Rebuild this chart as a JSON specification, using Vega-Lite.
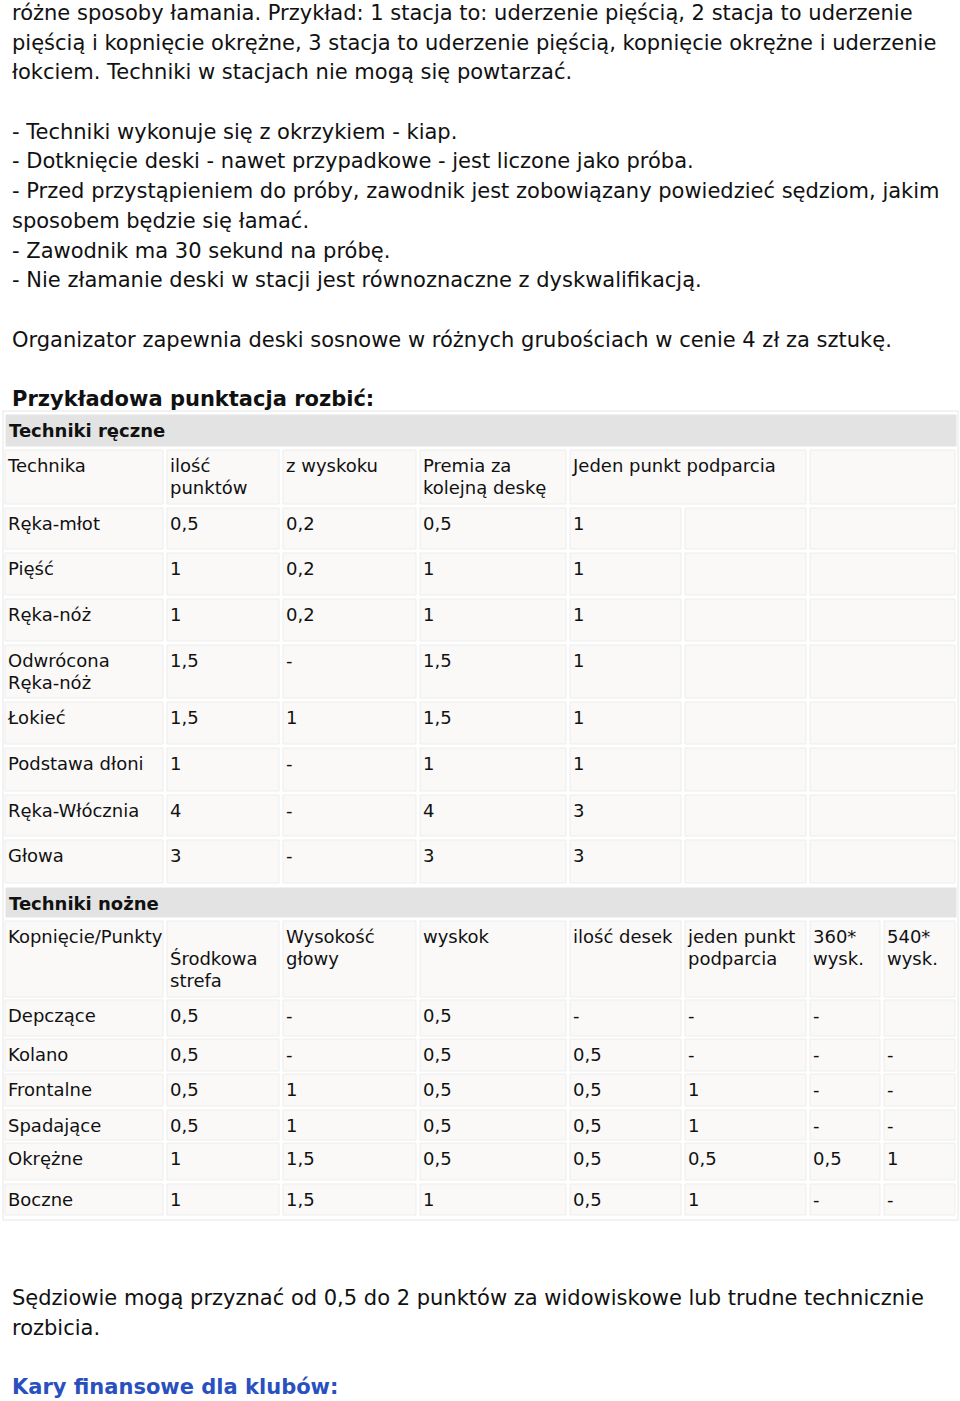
{
  "$schema": "https://vega.github.io/schema/vega-lite/v6.json",
  "width": 960,
  "height": 1401,
  "autosize": {"type": "fit", "contains": "padding"},
  "padding": 0,
  "background": "#ffffff",
  "config": {"view": {"stroke": null}},
  "datasets": {
    "intro": [
      {"line": 0, "kind": "body", "text": "różne sposoby łamania. Przykład: 1 stacja to: uderzenie pięścią, 2 stacja to uderzenie"},
      {"line": 1, "kind": "body", "text": "pięścią i kopnięcie okrężne, 3 stacja to uderzenie pięścią, kopnięcie okrężne i uderzenie"},
      {"line": 2, "kind": "body", "text": "łokciem. Techniki w stacjach nie mogą się powtarzać."},
      {"line": 4, "kind": "body", "text": "- Techniki wykonuje się z okrzykiem - kiap."},
      {"line": 5, "kind": "body", "text": "- Dotknięcie deski - nawet przypadkowe - jest liczone jako próba."},
      {"line": 6, "kind": "body", "text": "- Przed przystąpieniem do próby, zawodnik jest zobowiązany powiedzieć sędziom, jakim"},
      {"line": 7, "kind": "body", "text": "sposobem będzie się łamać."},
      {"line": 8, "kind": "body", "text": "- Zawodnik ma 30 sekund na próbę."},
      {"line": 9, "kind": "body", "text": "- Nie złamanie deski w stacji jest równoznaczne z dyskwalifikacją."},
      {"line": 11, "kind": "body", "text": "Organizator zapewnia deski sosnowe w różnych grubościach w cenie 4 zł za sztukę."},
      {"line": 13, "kind": "heading", "text": "Przykładowa punktacja rozbić:"}
    ],
    "footer": [
      {"line": 0, "kind": "body", "text": "Sędziowie mogą przyznać od 0,5 do 2 punktów za widowiskowe lub trudne technicznie"},
      {"line": 1, "kind": "body", "text": "rozbicia."},
      {"line": 3, "kind": "link", "text": "Kary finansowe dla klubów:"}
    ],
    "rows": [
      {"row": "frame", "top": 411, "bottom": 1220},
      {"row": "s1", "top": 415, "bottom": 446},
      {"row": "h1", "top": 450, "bottom": 504},
      {"row": "a1", "top": 508, "bottom": 549},
      {"row": "a2", "top": 553, "bottom": 595},
      {"row": "a3", "top": 599, "bottom": 641},
      {"row": "a4", "top": 645, "bottom": 698},
      {"row": "a5", "top": 702, "bottom": 744},
      {"row": "a6", "top": 748, "bottom": 791},
      {"row": "a7", "top": 795, "bottom": 836},
      {"row": "a8", "top": 840, "bottom": 883},
      {"row": "s2", "top": 888, "bottom": 917},
      {"row": "h2", "top": 921, "bottom": 997},
      {"row": "b1", "top": 1000, "bottom": 1036},
      {"row": "b2", "top": 1039, "bottom": 1071},
      {"row": "b3", "top": 1074, "bottom": 1106},
      {"row": "b4", "top": 1110, "bottom": 1140},
      {"row": "b5", "top": 1143, "bottom": 1180},
      {"row": "b6", "top": 1184, "bottom": 1215}
    ],
    "cols": [
      {"col": "frame", "left": 3, "right": 958},
      {"col": "all", "left": 6, "right": 956},
      {"col": "c0", "left": 5, "right": 163},
      {"col": "c1", "left": 167, "right": 279},
      {"col": "c2", "left": 283, "right": 416},
      {"col": "c3", "left": 420, "right": 566},
      {"col": "c4", "left": 570, "right": 681},
      {"col": "c5", "left": 685, "right": 806},
      {"col": "c45", "left": 570, "right": 806},
      {"col": "c6w", "left": 810, "right": 955},
      {"col": "c6", "left": 810, "right": 880},
      {"col": "c7", "left": 884, "right": 955}
    ],
    "cells": [
      {"row": "frame", "col": "frame", "kind": "frame", "text": ""},
      {"row": "s1", "col": "all", "kind": "section", "text": "Techniki ręczne"},
      {"row": "h1", "col": "c0", "kind": "cell", "text": "Technika"},
      {"row": "h1", "col": "c1", "kind": "cell", "text": "ilość\npunktów"},
      {"row": "h1", "col": "c2", "kind": "cell", "text": "z wyskoku"},
      {"row": "h1", "col": "c3", "kind": "cell", "text": "Premia za\nkolejną deskę"},
      {"row": "h1", "col": "c45", "kind": "cell", "text": "Jeden punkt podparcia"},
      {"row": "h1", "col": "c6w", "kind": "cell", "text": ""},

      {"row": "a1", "col": "c0", "kind": "cell", "text": "Ręka-młot"},
      {"row": "a1", "col": "c1", "kind": "cell", "text": "0,5"},
      {"row": "a1", "col": "c2", "kind": "cell", "text": "0,2"},
      {"row": "a1", "col": "c3", "kind": "cell", "text": "0,5"},
      {"row": "a1", "col": "c4", "kind": "cell", "text": "1"},
      {"row": "a1", "col": "c5", "kind": "cell", "text": ""},
      {"row": "a1", "col": "c6w", "kind": "cell", "text": ""},

      {"row": "a2", "col": "c0", "kind": "cell", "text": "Pięść"},
      {"row": "a2", "col": "c1", "kind": "cell", "text": "1"},
      {"row": "a2", "col": "c2", "kind": "cell", "text": "0,2"},
      {"row": "a2", "col": "c3", "kind": "cell", "text": "1"},
      {"row": "a2", "col": "c4", "kind": "cell", "text": "1"},
      {"row": "a2", "col": "c5", "kind": "cell", "text": ""},
      {"row": "a2", "col": "c6w", "kind": "cell", "text": ""},

      {"row": "a3", "col": "c0", "kind": "cell", "text": "Ręka-nóż"},
      {"row": "a3", "col": "c1", "kind": "cell", "text": "1"},
      {"row": "a3", "col": "c2", "kind": "cell", "text": "0,2"},
      {"row": "a3", "col": "c3", "kind": "cell", "text": "1"},
      {"row": "a3", "col": "c4", "kind": "cell", "text": "1"},
      {"row": "a3", "col": "c5", "kind": "cell", "text": ""},
      {"row": "a3", "col": "c6w", "kind": "cell", "text": ""},

      {"row": "a4", "col": "c0", "kind": "cell", "text": "Odwrócona\nRęka-nóż"},
      {"row": "a4", "col": "c1", "kind": "cell", "text": "1,5"},
      {"row": "a4", "col": "c2", "kind": "cell", "text": "-"},
      {"row": "a4", "col": "c3", "kind": "cell", "text": "1,5"},
      {"row": "a4", "col": "c4", "kind": "cell", "text": "1"},
      {"row": "a4", "col": "c5", "kind": "cell", "text": ""},
      {"row": "a4", "col": "c6w", "kind": "cell", "text": ""},

      {"row": "a5", "col": "c0", "kind": "cell", "text": "Łokieć"},
      {"row": "a5", "col": "c1", "kind": "cell", "text": "1,5"},
      {"row": "a5", "col": "c2", "kind": "cell", "text": "1"},
      {"row": "a5", "col": "c3", "kind": "cell", "text": "1,5"},
      {"row": "a5", "col": "c4", "kind": "cell", "text": "1"},
      {"row": "a5", "col": "c5", "kind": "cell", "text": ""},
      {"row": "a5", "col": "c6w", "kind": "cell", "text": ""},

      {"row": "a6", "col": "c0", "kind": "cell", "text": "Podstawa dłoni"},
      {"row": "a6", "col": "c1", "kind": "cell", "text": "1"},
      {"row": "a6", "col": "c2", "kind": "cell", "text": "-"},
      {"row": "a6", "col": "c3", "kind": "cell", "text": "1"},
      {"row": "a6", "col": "c4", "kind": "cell", "text": "1"},
      {"row": "a6", "col": "c5", "kind": "cell", "text": ""},
      {"row": "a6", "col": "c6w", "kind": "cell", "text": ""},

      {"row": "a7", "col": "c0", "kind": "cell", "text": "Ręka-Włócznia"},
      {"row": "a7", "col": "c1", "kind": "cell", "text": "4"},
      {"row": "a7", "col": "c2", "kind": "cell", "text": "-"},
      {"row": "a7", "col": "c3", "kind": "cell", "text": "4"},
      {"row": "a7", "col": "c4", "kind": "cell", "text": "3"},
      {"row": "a7", "col": "c5", "kind": "cell", "text": ""},
      {"row": "a7", "col": "c6w", "kind": "cell", "text": ""},

      {"row": "a8", "col": "c0", "kind": "cell", "text": "Głowa"},
      {"row": "a8", "col": "c1", "kind": "cell", "text": "3"},
      {"row": "a8", "col": "c2", "kind": "cell", "text": "-"},
      {"row": "a8", "col": "c3", "kind": "cell", "text": "3"},
      {"row": "a8", "col": "c4", "kind": "cell", "text": "3"},
      {"row": "a8", "col": "c5", "kind": "cell", "text": ""},
      {"row": "a8", "col": "c6w", "kind": "cell", "text": ""},

      {"row": "s2", "col": "all", "kind": "section", "text": "Techniki nożne"},
      {"row": "h2", "col": "c0", "kind": "cell", "text": "Kopnięcie/Punkty"},
      {"row": "h2", "col": "c1", "kind": "cell", "text": "\nŚrodkowa\nstrefa"},
      {"row": "h2", "col": "c2", "kind": "cell", "text": "Wysokość\ngłowy"},
      {"row": "h2", "col": "c3", "kind": "cell", "text": "wyskok"},
      {"row": "h2", "col": "c4", "kind": "cell", "text": "ilość desek"},
      {"row": "h2", "col": "c5", "kind": "cell", "text": "jeden punkt\npodparcia"},
      {"row": "h2", "col": "c6", "kind": "cell", "text": "360*\nwysk."},
      {"row": "h2", "col": "c7", "kind": "cell", "text": "540*\nwysk."},

      {"row": "b1", "col": "c0", "kind": "cell", "text": "Depczące"},
      {"row": "b1", "col": "c1", "kind": "cell", "text": "0,5"},
      {"row": "b1", "col": "c2", "kind": "cell", "text": "-"},
      {"row": "b1", "col": "c3", "kind": "cell", "text": "0,5"},
      {"row": "b1", "col": "c4", "kind": "cell", "text": "-"},
      {"row": "b1", "col": "c5", "kind": "cell", "text": "-"},
      {"row": "b1", "col": "c6", "kind": "cell", "text": "-"},
      {"row": "b1", "col": "c7", "kind": "cell", "text": ""},

      {"row": "b2", "col": "c0", "kind": "cell", "text": "Kolano"},
      {"row": "b2", "col": "c1", "kind": "cell", "text": "0,5"},
      {"row": "b2", "col": "c2", "kind": "cell", "text": "-"},
      {"row": "b2", "col": "c3", "kind": "cell", "text": "0,5"},
      {"row": "b2", "col": "c4", "kind": "cell", "text": "0,5"},
      {"row": "b2", "col": "c5", "kind": "cell", "text": "-"},
      {"row": "b2", "col": "c6", "kind": "cell", "text": "-"},
      {"row": "b2", "col": "c7", "kind": "cell", "text": "-"},

      {"row": "b3", "col": "c0", "kind": "cell", "text": "Frontalne"},
      {"row": "b3", "col": "c1", "kind": "cell", "text": "0,5"},
      {"row": "b3", "col": "c2", "kind": "cell", "text": "1"},
      {"row": "b3", "col": "c3", "kind": "cell", "text": "0,5"},
      {"row": "b3", "col": "c4", "kind": "cell", "text": "0,5"},
      {"row": "b3", "col": "c5", "kind": "cell", "text": "1"},
      {"row": "b3", "col": "c6", "kind": "cell", "text": "-"},
      {"row": "b3", "col": "c7", "kind": "cell", "text": "-"},

      {"row": "b4", "col": "c0", "kind": "cell", "text": "Spadające"},
      {"row": "b4", "col": "c1", "kind": "cell", "text": "0,5"},
      {"row": "b4", "col": "c2", "kind": "cell", "text": "1"},
      {"row": "b4", "col": "c3", "kind": "cell", "text": "0,5"},
      {"row": "b4", "col": "c4", "kind": "cell", "text": "0,5"},
      {"row": "b4", "col": "c5", "kind": "cell", "text": "1"},
      {"row": "b4", "col": "c6", "kind": "cell", "text": "-"},
      {"row": "b4", "col": "c7", "kind": "cell", "text": "-"},

      {"row": "b5", "col": "c0", "kind": "cell", "text": "Okrężne"},
      {"row": "b5", "col": "c1", "kind": "cell", "text": "1"},
      {"row": "b5", "col": "c2", "kind": "cell", "text": "1,5"},
      {"row": "b5", "col": "c3", "kind": "cell", "text": "0,5"},
      {"row": "b5", "col": "c4", "kind": "cell", "text": "0,5"},
      {"row": "b5", "col": "c5", "kind": "cell", "text": "0,5"},
      {"row": "b5", "col": "c6", "kind": "cell", "text": "0,5"},
      {"row": "b5", "col": "c7", "kind": "cell", "text": "1"},

      {"row": "b6", "col": "c0", "kind": "cell", "text": "Boczne"},
      {"row": "b6", "col": "c1", "kind": "cell", "text": "1"},
      {"row": "b6", "col": "c2", "kind": "cell", "text": "1,5"},
      {"row": "b6", "col": "c3", "kind": "cell", "text": "1"},
      {"row": "b6", "col": "c4", "kind": "cell", "text": "0,5"},
      {"row": "b6", "col": "c5", "kind": "cell", "text": "1"},
      {"row": "b6", "col": "c6", "kind": "cell", "text": "-"},
      {"row": "b6", "col": "c7", "kind": "cell", "text": "-"}
    ]
  },
  "resolve": {"scale": {"y": "independent", "x": "shared", "fill": "independent", "stroke": "independent"}},
  "layer": [
    {
      "data": {"name": "cells"},
      "transform": [
        {"lookup": "row", "from": {"data": {"name": "rows"}, "key": "row", "fields": ["top", "bottom"]}},
        {"lookup": "col", "from": {"data": {"name": "cols"}, "key": "col", "fields": ["left", "right"]}}
      ],
      "mark": {"type": "rect", "strokeWidth": 1},
      "encoding": {
        "x": {"field": "left", "type": "quantitative", "scale": {"domain": [0, 960], "nice": false, "zero": false}, "axis": null},
        "x2": {"field": "right"},
        "y": {"field": "top", "type": "quantitative", "scale": {"domain": [0, 1401], "nice": false, "zero": false, "reverse": true}, "axis": null},
        "y2": {"field": "bottom"},
        "fill": {"field": "kind", "type": "nominal", "scale": {"domain": ["frame", "section", "cell"], "range": ["#ffffff", "#e3e3e3", "#faf9f8"]}, "legend": null},
        "stroke": {"field": "kind", "type": "nominal", "scale": {"domain": ["frame", "section", "cell"], "range": ["#e6e6e6", "#e3e3e3", "#ededed"]}, "legend": null}
      }
    },
    {
      "data": {"name": "cells"},
      "transform": [
        {"filter": "datum.kind === 'cell'"},
        {"lookup": "row", "from": {"data": {"name": "rows"}, "key": "row", "fields": ["top", "bottom"]}},
        {"lookup": "col", "from": {"data": {"name": "cols"}, "key": "col", "fields": ["left", "right"]}}
      ],
      "mark": {"type": "text", "align": "left", "baseline": "alphabetic", "dx": 3, "dy": 22, "font": "DejaVu Sans", "fontSize": 18, "lineBreak": "\n", "lineHeight": 22, "color": "#111111"},
      "encoding": {
        "x": {"field": "left", "type": "quantitative", "scale": {"domain": [0, 960], "nice": false, "zero": false}, "axis": null},
        "y": {"field": "top", "type": "quantitative", "scale": {"domain": [0, 1401], "nice": false, "zero": false, "reverse": true}, "axis": null},
        "text": {"field": "text"}
      }
    },
    {
      "data": {"name": "cells"},
      "transform": [
        {"filter": "datum.kind === 'section'"},
        {"lookup": "row", "from": {"data": {"name": "rows"}, "key": "row", "fields": ["top", "bottom"]}},
        {"lookup": "col", "from": {"data": {"name": "cols"}, "key": "col", "fields": ["left", "right"]}}
      ],
      "mark": {"type": "text", "align": "left", "baseline": "alphabetic", "dx": 3, "dy": 22, "font": "DejaVu Sans", "fontSize": 18, "fontWeight": "bold", "color": "#111111"},
      "encoding": {
        "x": {"field": "left", "type": "quantitative", "scale": {"domain": [0, 960], "nice": false, "zero": false}, "axis": null},
        "y": {"field": "top", "type": "quantitative", "scale": {"domain": [0, 1401], "nice": false, "zero": false, "reverse": true}, "axis": null},
        "text": {"field": "text"}
      }
    },
    {
      "data": {"name": "intro"},
      "transform": [{"filter": "datum.kind === 'body'"}],
      "mark": {"type": "text", "align": "left", "baseline": "alphabetic", "font": "DejaVu Sans", "fontSize": 21, "color": "#111111"},
      "encoding": {
        "x": {"datum": 12, "type": "quantitative", "scale": {"domain": [0, 960], "nice": false, "zero": false}, "axis": null},
        "y": {"field": "line", "type": "quantitative", "scale": {"domain": [-0.673, 46.5], "nice": false, "zero": false, "reverse": true}, "axis": null},
        "text": {"field": "text"}
      }
    },
    {
      "data": {"name": "intro"},
      "transform": [{"filter": "datum.kind === 'heading'"}],
      "mark": {"type": "text", "align": "left", "baseline": "alphabetic", "font": "DejaVu Sans", "fontSize": 21, "fontWeight": "bold", "color": "#111111"},
      "encoding": {
        "x": {"datum": 12, "type": "quantitative", "scale": {"domain": [0, 960], "nice": false, "zero": false}, "axis": null},
        "y": {"field": "line", "type": "quantitative", "scale": {"domain": [-0.673, 46.5], "nice": false, "zero": false, "reverse": true}, "axis": null},
        "text": {"field": "text"}
      }
    },
    {
      "data": {"name": "footer"},
      "transform": [{"filter": "datum.kind === 'body'"}],
      "mark": {"type": "text", "align": "left", "baseline": "alphabetic", "font": "DejaVu Sans", "fontSize": 21, "color": "#111111"},
      "encoding": {
        "x": {"datum": 12, "type": "quantitative", "scale": {"domain": [0, 960], "nice": false, "zero": false}, "axis": null},
        "y": {"field": "line", "type": "quantitative", "scale": {"domain": [-43.94, 3.233], "nice": false, "zero": false, "reverse": true}, "axis": null},
        "text": {"field": "text"}
      }
    },
    {
      "data": {"name": "footer"},
      "transform": [{"filter": "datum.kind === 'link'"}],
      "mark": {"type": "text", "align": "left", "baseline": "alphabetic", "font": "DejaVu Sans", "fontSize": 21, "fontWeight": "bold", "color": "#2a50bf"},
      "encoding": {
        "x": {"datum": 12, "type": "quantitative", "scale": {"domain": [0, 960], "nice": false, "zero": false}, "axis": null},
        "y": {"field": "line", "type": "quantitative", "scale": {"domain": [-43.94, 3.233], "nice": false, "zero": false, "reverse": true}, "axis": null},
        "text": {"field": "text"}
      }
    }
  ]
}
